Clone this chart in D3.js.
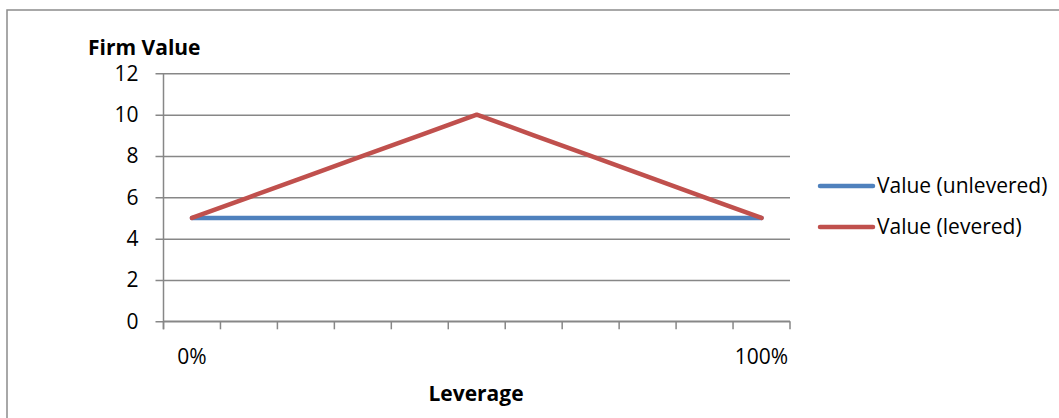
<!DOCTYPE html>
<html>
<head>
<meta charset="utf-8">
<script src="https://cdn.jsdelivr.net/npm/d3@7"></script>
<style>
  html, body { margin: 0; padding: 0; background: #fff; }
  svg { display: block; }
  text { font-family: "Open Sans", Lato, sans-serif; fill: #000; }
</style>
</head>
<body>
<svg id="chart" width="1059" height="418"></svg>
<script>
// Category axis: leverage from 0% to 100% in 10% steps, only the ends are labelled
const categories = ["0%", "", "", "", "", "", "", "", "", "", "100%"];
// Firm value without debt: flat across leverage
const unlevered = [5, 5, 5, 5, 5, 5, 5, 5, 5, 5, 5];
// Firm value with debt: rises to a peak at 50%, then falls back
const levered = [5, 6, 7, 8, 9, 10, 9, 8, 7, 6, 5];
const yTicks = [0, 2, 4, 6, 8, 10, 12];
const seriesNames = ["Value (unlevered)", "Value (levered)"];
const seriesColors = ["#4F81BD", "#C0504D"];

const svg = d3.select("#chart");
const plot = { left: 163.5, right: 790, top: 73.3, bottom: 321.3 };
const fontSize = 21;

// chart frame
svg.append("rect")
  .attr("x", 7).attr("y", 10)
  .attr("width", 1070).attr("height", 430)
  .attr("fill", "none").attr("stroke", "#8c8c8c").attr("stroke-width", 1.5);

const x = d3.scaleBand()
  .domain(d3.range(categories.length))
  .range([plot.left, plot.right]);
const y = d3.scaleLinear().domain([0, 12]).range([plot.bottom, plot.top]);

const grid = "#878787";

// horizontal gridlines + y tick marks
const yAxis = d3.axisLeft(y).tickValues(yTicks).tickSize(plot.right - plot.left + 8).tickPadding(17);
const yg = svg.append("g")
  .attr("transform", `translate(${plot.right},0)`)
  .call(yAxis);
yg.select(".domain").remove();
yg.selectAll(".tick line").attr("stroke", grid).attr("stroke-width", 1.5);
yg.selectAll(".tick text")
  .attr("font-size", fontSize)
  .attr("font-family", "'Open Sans', sans-serif")
  .attr("fill", "#000");

// vertical value axis line
svg.append("line")
  .attr("x1", plot.left).attr("x2", plot.left)
  .attr("y1", plot.top).attr("y2", plot.bottom + 8)
  .attr("stroke", grid).attr("stroke-width", 1.5);

// category axis: tick marks at band edges
const edges = d3.range(categories.length + 1).map(i => plot.left + i * x.step());
svg.append("line")
  .attr("x1", plot.left).attr("x2", plot.right)
  .attr("y1", plot.bottom).attr("y2", plot.bottom)
  .attr("stroke", grid).attr("stroke-width", 1.5);
svg.selectAll(".xtick").data(edges).join("line")
  .attr("class", "xtick")
  .attr("x1", d => d).attr("x2", d => d)
  .attr("y1", plot.bottom).attr("y2", plot.bottom + 8)
  .attr("stroke", grid).attr("stroke-width", 1.5);
svg.selectAll(".xlab").data(categories).join("text")
  .attr("class", "xlab")
  .attr("x", (d, i) => x(i) + x.bandwidth() / 2)
  .attr("y", 364)
  .attr("text-anchor", "middle")
  .attr("font-size", fontSize)
  .text(d => d);

// series lines
const cx = i => x(i) + x.bandwidth() / 2;
const line = d3.line().x((d, i) => cx(i)).y(d => y(d));
[unlevered, levered].forEach((vals, s) => {
  svg.append("path")
    .datum(vals)
    .attr("d", line)
    .attr("fill", "none")
    .attr("stroke", seriesColors[s])
    .attr("stroke-width", 4.5)
    .attr("stroke-linejoin", "round")
    .attr("stroke-linecap", "round");
});

// axis titles
svg.append("text")
  .attr("x", 88).attr("y", 55)
  .attr("font-size", fontSize).attr("font-weight", "bold")
  .text("Firm Value");
svg.append("text")
  .attr("x", 476).attr("y", 401)
  .attr("text-anchor", "middle")
  .attr("font-size", fontSize).attr("font-weight", "bold")
  .text("Leverage");

// legend
const legendY = [186, 227];
seriesNames.forEach((name, s) => {
  svg.append("line")
    .attr("x1", 820).attr("x2", 873)
    .attr("y1", legendY[s]).attr("y2", legendY[s])
    .attr("stroke", seriesColors[s]).attr("stroke-width", 4.5)
    .attr("stroke-linecap", "round");
  svg.append("text")
    .attr("x", 877).attr("y", legendY[s])
    .attr("dy", "0.35em")
    .attr("font-size", fontSize)
    .text(name);
});
</script>
</body>
</html>
